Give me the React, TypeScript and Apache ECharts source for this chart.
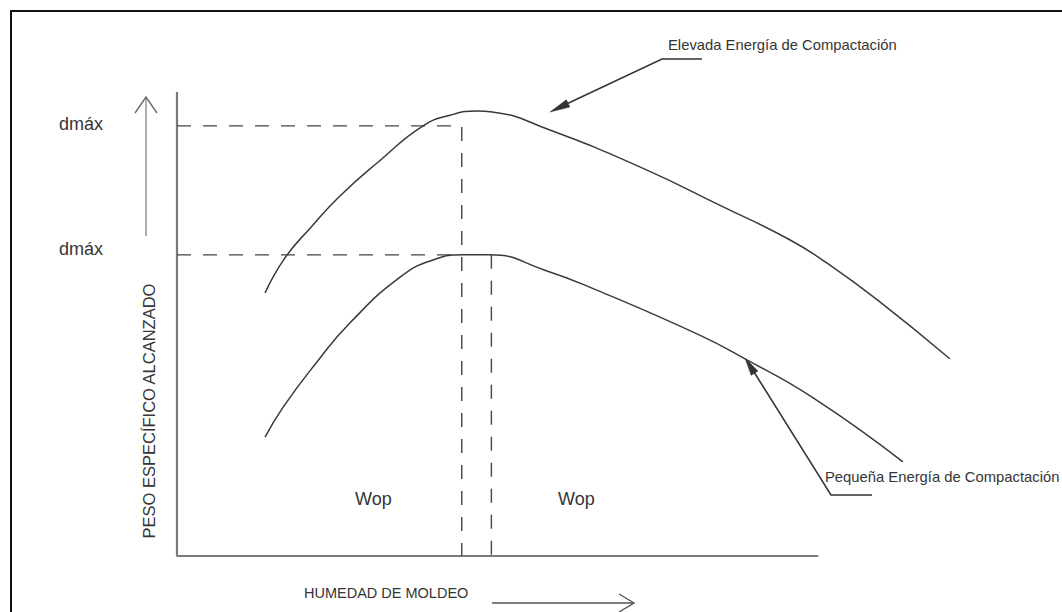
import React, { useEffect, useRef } from "react";
import * as echarts from "echarts";

// Schematic compaction curves (x: moisture, y: dry unit weight), arbitrary 0-100 units
const HIGH_X = [10.7, 13.1, 16.2, 19.8, 24.7, 29.9, 33.2, 36.5, 38.3, 45.3, 56.3, 66.3, 74.5, 79.0, 85.1, 93.9];
const HIGH_Y = [56.7, 64.2, 70.7, 77.6, 85.3, 92.7, 95.0, 95.9, 95.7, 91.8, 83.8, 75.3, 68.1, 63.1, 55.2, 42.5];
const LOW_X = [10.7, 12.9, 17.0, 21.0, 27.1, 31.1, 34.8, 38.0, 44.7, 51.0, 63.5, 68.8, 77.3, 88.2];
const LOW_Y = [25.6, 32.1, 41.8, 50.2, 60.1, 63.8, 64.9, 64.9, 61.6, 57.3, 47.6, 42.7, 34.1, 20.3];

const DMAX_HIGH = 92.7;
const DMAX_LOW = 64.9;
const WOP_HIGH = 34.6;
const WOP_LOW = 38.2;
const AXIS_TOP = 100;
const AXIS_RIGHT = 77.9;

const DMAX_LABELS = ["dmáx", "dmáx"];
const WOP_LABELS = ["Wop", "Wop"];
const Y_TITLE = "PESO ESPECÍFICO ALCANZADO";
const X_TITLE = "HUMEDAD DE MOLDEO";
const HIGH_LABEL = "Elevada Energía de Compactación";
const LOW_LABEL = "Pequeña Energía de Compactación";

const zip = (xs: number[], ys: number[]) => xs.map((x, i) => [x, ys[i]]);

function arrowHead(fromX: number, fromY: number, tipX: number, tipY: number, len: number, half: number) {
  const dx = tipX - fromX;
  const dy = tipY - fromY;
  const l = Math.sqrt(dx * dx + dy * dy);
  const ux = dx / l;
  const uy = dy / l;
  const bx = tipX - ux * len;
  const by = tipY - uy * len;
  const nx = -uy * half;
  const ny = ux * half;
  return [
    [tipX, tipY],
    [bx + nx, by + ny],
    [bx - nx, by - ny],
  ];
}

export default function App() {
  const ref = useRef<HTMLDivElement>(null);
  useEffect(() => {
    if (!ref.current) return;
    const chart = echarts.init(ref.current, null, { renderer: "svg" });
    const font = "Liberation Sans, Arial, sans-serif";
    const txt = "#353535";
    const curveColor = "#3a3a3a";
    const dash = [14, 12];

    const highTip = [550, 112];
    const highKnee = [662, 59];
    const lowTip = [745, 358];
    const lowKnee = [831, 495];

    chart.setOption({
      animation: false,
      grid: { left: 177, top: 92, width: 823, height: 464 },
      xAxis: {
        type: "value",
        min: 0,
        max: 100,
        axisLine: { show: false },
        axisTick: { show: false },
        axisLabel: { show: false },
        splitLine: { show: false },
      },
      yAxis: {
        type: "value",
        min: 0,
        max: 100,
        axisLine: { show: false },
        axisTick: { show: false },
        axisLabel: { show: false },
        splitLine: { show: false },
      },
      series: [
        {
          type: "line",
          data: [[0, AXIS_TOP], [0, 0], [AXIS_RIGHT, 0]],
          symbol: "none",
          lineStyle: { color: "#7a7a7a", width: 2.2 },
          silent: true,
        },
        {
          type: "line",
          data: [[0, DMAX_HIGH], [WOP_HIGH, DMAX_HIGH], [WOP_HIGH, 0]],
          symbol: "none",
          lineStyle: { color: "#444", width: 1.4, type: dash },
          silent: true,
        },
        {
          type: "line",
          data: [[0, DMAX_LOW], [WOP_HIGH, DMAX_LOW]],
          symbol: "none",
          lineStyle: { color: "#444", width: 1.4, type: dash },
          silent: true,
        },
        {
          type: "line",
          data: [[WOP_LOW, DMAX_LOW], [WOP_LOW, 0]],
          symbol: "none",
          lineStyle: { color: "#444", width: 1.4, type: dash },
          silent: true,
        },
        {
          type: "line",
          data: zip(HIGH_X, HIGH_Y),
          smooth: 0.5,
          symbol: "none",
          lineStyle: { color: curveColor, width: 1.5 },
          silent: true,
        },
        {
          type: "line",
          data: zip(LOW_X, LOW_Y),
          smooth: 0.5,
          symbol: "none",
          lineStyle: { color: curveColor, width: 1.5 },
          silent: true,
        },
      ],
      graphic: [
        {
          type: "rect",
          shape: { x: 11, y: 11, width: 1200, height: 800 },
          style: { fill: "none", stroke: "#111", lineWidth: 2 },
        },
        // vertical arrow
        {
          type: "line",
          shape: { x1: 146, y1: 236, x2: 146, y2: 98 },
          style: { stroke: "#9a9a9a", lineWidth: 1.6 },
        },
        {
          type: "polyline",
          shape: { points: [[135, 113], [146, 97], [157, 113]] },
          style: { stroke: "#6a6a6a", lineWidth: 1.4, fill: "none" },
        },
        // horizontal arrow
        {
          type: "line",
          shape: { x1: 492, y1: 603, x2: 633, y2: 603 },
          style: { stroke: "#555", lineWidth: 1.4 },
        },
        {
          type: "polyline",
          shape: { points: [[619, 594], [634, 603], [619, 612]] },
          style: { stroke: "#555", lineWidth: 1.4, fill: "none" },
        },
        // high energy leader
        {
          type: "polyline",
          shape: { points: [[702, 59], highKnee, [highTip[0] + 8, highTip[1] - 4]] },
          style: { stroke: "#333", lineWidth: 1.5, fill: "none" },
        },
        {
          type: "polygon",
          shape: { points: arrowHead(highKnee[0], highKnee[1], highTip[0], highTip[1], 20, 4) },
          style: { fill: "#333", stroke: "#333", lineWidth: 0.5 },
        },
        // low energy leader
        {
          type: "polyline",
          shape: { points: [[872, 495], lowKnee, [lowTip[0] + 4, lowTip[1] + 6]] },
          style: { stroke: "#333", lineWidth: 1.5, fill: "none" },
        },
        {
          type: "polygon",
          shape: { points: arrowHead(lowKnee[0], lowKnee[1], lowTip[0], lowTip[1], 18, 4) },
          style: { fill: "#333", stroke: "#333", lineWidth: 0.5 },
        },
        // texts
        {
          type: "text",
          x: 59,
          y: 124,
          style: { text: DMAX_LABELS[0], font: `18px ${font}`, fill: txt, verticalAlign: "middle" },
        },
        {
          type: "text",
          x: 59,
          y: 249,
          style: { text: DMAX_LABELS[1], font: `18px ${font}`, fill: txt, verticalAlign: "middle" },
        },
        {
          type: "text",
          x: 355,
          y: 499,
          style: { text: WOP_LABELS[0], font: `18px ${font}`, fill: txt, verticalAlign: "middle" },
        },
        {
          type: "text",
          x: 558,
          y: 499,
          style: { text: WOP_LABELS[1], font: `18px ${font}`, fill: txt, verticalAlign: "middle" },
        },
        {
          type: "text",
          x: 149,
          y: 411,
          rotation: Math.PI / 2,
          style: {
            text: Y_TITLE,
            font: `16.5px ${font}`,
            fill: txt,
            align: "center",
            verticalAlign: "middle",
          },
        },
        {
          type: "text",
          x: 304,
          y: 593,
          style: { text: X_TITLE, font: `14.5px ${font}`, fill: txt, verticalAlign: "middle" },
        },
        {
          type: "text",
          x: 668,
          y: 45,
          style: { text: HIGH_LABEL, font: `14.8px ${font}`, fill: txt, verticalAlign: "middle" },
        },
        {
          type: "text",
          x: 825,
          y: 477,
          style: { text: LOW_LABEL, font: `14.8px ${font}`, fill: txt, verticalAlign: "middle" },
        },
      ],
    });
    return () => chart.dispose();
  }, []);
  return (
    <div
      ref={ref}
      style={{ position: "absolute", left: 0, top: 0, width: 1062, height: 612, background: "#fff" }}
    />
  );
}
